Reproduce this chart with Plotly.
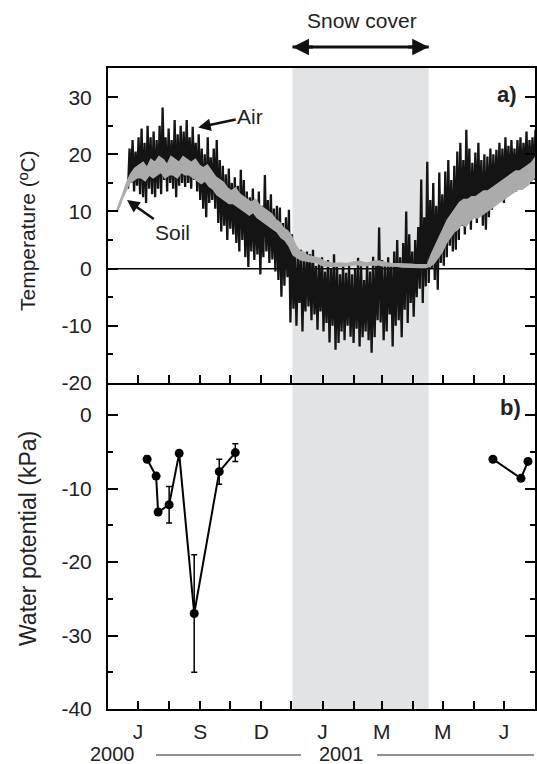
import pandas as pd
import plotly.graph_objects as go

# ---------------- data ----------------
# Air temperature: highs and lows sampled every 3 days from 21 Jun 2000
AIR_START = "2000-06-21"
AIR_STEP_DAYS = 3
AIR_HI = [21, 22.5, 20.5, 23, 24.5, 22, 25, 23, 24, 22.5,
          25, 28.2, 23, 24.5, 22.5, 26, 23.5, 25, 24, 26,
          23, 24.8, 22, 23.5, 21, 20, 23, 19.5, 21, 22.5,
          19, 18, 16.5, 17.5, 15, 16, 14.5, 17.3, 15.5, 13.5,
          12.5, 14, 12, 13.5, 11, 16.4, 12, 13, 10.5, 11,
          10.7, 8, 9, 10.3, 6, 3.3, 2, 3.3, 1.5, 3,
          2.5, 3.3, 0.5, 1, 2, -0.5, 1.5, 0, 2.5, 0.5,
          -1, 1, -0.7, 0.5, -1, 0, 1.9, 0.5, -2, 1,
          -0.5, 2.1, 0.5, 7.2, 1.5, 0.5, 2, 1, 3, 5,
          2, 4.5, 10, 6, 3, 5, 7.3, 15.6, 9, 18.7,
          12, 15, 11, 16.8, 13, 17, 19, 15.5, 18, 20.5,
          22, 19, 24.3, 21, 18.5, 20.3, 22, 19, 20, 19.6,
          21, 20, 20.8, 22, 21, 23, 21.5, 22.5, 21, 22.5,
          23, 22, 24, 22.5, 23, 24.3, 23.5]
AIR_LO = [14, 15, 13.5, 14.5, 13, 12.5, 11.5, 14, 13, 12.5,
          14, 13, 15.5, 13.5, 15, 14, 12.5, 14.5, 15, 14.3,
          15, 14, 15.5, 13.5, 12, 10.5, 9, 11.5, 12, 10.5,
          8, 6.5, 7.5, 5, 7, 6, 4.5, 3, 5, 2,
          0.3, 3, 1.5, 2.5, -1, 2, 3, 1, 1.6, -0.5,
          -2, -4.9, -3, -1.5, -9.4, -7, -10, -6, -11, -7.5,
          -6.6, -9, -8, -10.7, -7.5, -11, -9.5, -12.9, -10, -14.2,
          -13, -11, -12.5, -10, -11.9, -13, -10.5, -13.6, -12, -11,
          -12.5, -14.7, -12, -9, -9.4, -12.5, -11, -8, -13.6, -10,
          -9, -12, -7.2, -9.5, -6, -8.4, -5, -3.5, -6, -3.1,
          -2.5, 0, -2, -3.7, 1, 0.5, 2, 4, 3, 3.3,
          5, 7.5, 6, 8.5, 6.8, 9, 8, 10, 7.5, 6.8,
          9, 10.3, 11, 12, 12.5, 11.5, 13.8, 13, 14.5, 13.5,
          15, 14, 15.5, 15, 16, 15.5, 16.5]

# Soil temperature: highs and lows sampled every 4 days from 10 Jun 2000
SOIL_START = "2000-06-10"
SOIL_STEP_DAYS = 4
SOIL_HI = [10.8, 13, 15, 16.5, 17.5, 18, 18.5, 17.5, 19, 18.5,
           19.5, 19, 18, 19.5, 19, 18.5, 19.5, 19, 18.5, 19,
           18, 17.5, 18, 17, 16, 15.5, 15, 14, 13.5, 14,
           13, 12.5, 12, 11.5, 12, 11, 10.5, 10, 9.5, 8.5,
           8, 7, 6.5, 5.5, 4, 3, 2.8, 2.2, 2, 1.9,
           1.7, 1.2, 1.0, 0.9, 0.8, 0.9, 0.8, 0.8, 1.0, 1.1,
           1.2, 1.0, 0.9, 1.1, 1.3, 1.2, 1.0, 0.9, 0.8, 0.8,
           0.8, 0.7, 0.7, 0.7, 0.6, 0.6, 0.6, 0.6, 2.5, 4,
           5.5, 7, 8.5, 9.5, 10.5, 11.5, 12, 12, 12.5, 12.5,
           13, 13.5, 13.5, 14, 14.5, 15, 15.5, 16, 16.5, 17,
           17, 17.5, 18, 18.5, 19.5]
SOIL_LO = [10.0, 12, 13.5, 15, 15.5, 16, 16, 15.5, 16.5, 16,
           16.5, 17, 16, 16.5, 16.5, 16, 17, 16.5, 16.5, 16,
           15.5, 15, 15.5, 14.5, 14, 13, 12.5, 12, 11.5, 11.5,
           11, 10.5, 10, 9.5, 10, 9, 8.5, 8, 7.5, 7,
           6.5, 5.5, 5, 4, 2.5, 2, 1.6, 1.4, 1.3, 1.2,
           1.1, 0.7, 0.5, 0.5, 0.5, 0.5, 0.5, 0.5, 0.6, 0.7,
           0.8, 0.6, 0.6, 0.7, 0.8, 0.8, 0.6, 0.6, 0.5, 0.5,
           0.5, 0.4, 0.4, 0.4, 0.4, 0.3, 0.3, 0.3, 0.5, 1,
           2, 3, 4.5, 5.5, 6.5, 7, 8, 7.5, 8.5, 9,
           9, 9.5, 10, 10.5, 11, 11.5, 12, 12.5, 13, 13.5,
           14, 14, 14.5, 15, 16]

# Soil water potential (kPa), mean and error
WP_2000_DATES = ["2000-07-10", "2000-07-19", "2000-07-21", "2000-08-01", "2000-08-11",
                 "2000-08-26", "2000-09-20", "2000-10-06"]
WP_2000_VALUES = [-6.0, -8.3, -13.2, -12.2, -5.2, -27.0, -7.7, -5.1]
WP_2000_ERR = [0.4, 0.4, 0.4, 2.5, 0.4, 8.0, 1.7, 1.2]
WP_2001_DATES = ["2001-06-20", "2001-07-18", "2001-07-25"]
WP_2001_VALUES = [-6.0, -8.6, -6.3]

SNOW_START, SNOW_END = "2000-12-02", "2001-04-17"

MONTH_TICKS = ["2000-07-01", "2000-08-01", "2000-09-01", "2000-10-01", "2000-11-01",
               "2000-12-01", "2001-01-01", "2001-02-01", "2001-03-01", "2001-04-01",
               "2001-05-01", "2001-06-01", "2001-07-01"]
MONTH_LABELS = ["J", "", "S", "", "D", "", "J", "", "M", "", "M", "", "J"]
TEMP_TICKS = [-20, -10, 0, 10, 20, 30]
TEMP_LABELS = ["-20", "-10", "0", "10", "20", "30"]
WP_TICKS = [-40, -30, -20, -10, 0]
WP_LABELS = ["-40", "-30", "-20", "-10", "0"]


def zigzag(start, step, lo, hi):
    """Alternate each low with the following high (half a step later)."""
    t0 = pd.Timestamp(start)
    xs, ys = [], []
    for i, (a, b) in enumerate(zip(lo, hi)):
        t = t0 + pd.Timedelta(days=step * i)
        xs += [t, t + pd.Timedelta(hours=12 * step)]
        ys += [a, b]
    return xs, ys


def band(start, step, lo, hi):
    """Closed outline: highs forward (mid-step), lows backward."""
    t0 = pd.Timestamp(start)
    t_lo = [t0 + pd.Timedelta(days=step * i) for i in range(len(lo))]
    t_hi = [t + pd.Timedelta(hours=12 * step) for t in t_lo]
    return t_hi + t_lo[::-1], list(hi) + list(lo)[::-1]


# ---------------- layout geometry (page pixel coords) ----------------
W, H = 537, 764
X0, X1, Y0, Y1 = 108, 535, 68, 709   # plot area
ML, MR, MT, MB = X0, W - X1, Y0, H - Y1


def px(x):
    return (x - X0) / (X1 - X0)


def py(y):
    return (Y1 - y) / (Y1 - Y0)


FONT = "Liberation Sans, Arial, Helvetica, sans-serif"
TXT = "#222222"

fig = go.Figure()

ax, ay = zigzag(AIR_START, AIR_STEP_DAYS, AIR_LO, AIR_HI)
fig.add_trace(go.Scatter(x=ax, y=ay, mode="lines",
                         line=dict(color="#141414", width=2.3),
                         xaxis="x2", yaxis="y2", showlegend=False, hoverinfo="skip"))
sx, sy = band(SOIL_START, SOIL_STEP_DAYS, SOIL_LO, SOIL_HI)
fig.add_trace(go.Scatter(x=sx, y=sy, mode="lines", fill="toself", fillcolor="#ababab",
                         line=dict(color="#ababab", width=2.5),
                         xaxis="x2", yaxis="y2", showlegend=False, hoverinfo="skip"))

fig.add_trace(go.Scatter(x=WP_2000_DATES, y=WP_2000_VALUES, mode="lines+markers",
                         line=dict(color="black", width=2),
                         marker=dict(color="black", size=9),
                         error_y=dict(type="data", array=WP_2000_ERR, color="black",
                                      thickness=1.5, width=3),
                         xaxis="x", yaxis="y", showlegend=False, cliponaxis=False))
fig.add_trace(go.Scatter(x=WP_2001_DATES, y=WP_2001_VALUES, mode="lines+markers",
                         line=dict(color="black", width=2),
                         marker=dict(color="black", size=9),
                         xaxis="x", yaxis="y", showlegend=False, cliponaxis=False))

xcommon = dict(type="date", range=["2000-06-01", "2001-08-01"], tickvals=MONTH_TICKS,
               ticks="inside", ticklen=8, tickwidth=2, tickcolor="black",
               showline=True, linewidth=2, linecolor="black", mirror=True,
               showgrid=False, zeroline=False)
ycommon = dict(ticks="inside", ticklen=10, tickwidth=2, tickcolor="black",
               showline=True, linewidth=2, linecolor="black", mirror="allticks",
               showgrid=False, zeroline=False,
               minor=dict(dtick=5, tick0=0, ticks="inside", ticklen=5, tickwidth=2,
                          tickcolor="black", showgrid=False),
               tickfont=dict(family=FONT, size=21, color=TXT),
               ticklabelstandoff=10)

fig.update_layout(
    width=W, height=H,
    margin=dict(l=ML, r=MR, t=MT, b=MB, autoexpand=False),
    paper_bgcolor="white", plot_bgcolor="rgba(0,0,0,0)",
    font=dict(family=FONT, color=TXT),
    xaxis=dict(**xcommon, anchor="y", ticktext=MONTH_LABELS,
               tickfont=dict(family=FONT, size=21, color=TXT), ticklabelstandoff=3),
    xaxis2=dict(**xcommon, anchor="y2", matches="x", showticklabels=False),
    yaxis=dict(**ycommon, domain=[0, py(385)], range=[-40, 4.1],
               tickvals=WP_TICKS, ticktext=WP_LABELS),
    yaxis2=dict(**ycommon, domain=[py(383), 1], range=[-20, 35.1],
                tickvals=TEMP_TICKS, ticktext=TEMP_LABELS),
)

shapes = [
    dict(type="rect", xref="x", yref="paper", x0=SNOW_START, x1=SNOW_END, y0=0, y1=1,
         fillcolor="#e2e3e5", line=dict(width=0), layer="below"),
    dict(type="line", xref="paper", yref="y2", x0=0, x1=1, y0=0, y1=0,
         line=dict(color="black", width=1.5), layer="below"),
    dict(type="line", xref="x", yref="paper", x0=SNOW_START, x1=SNOW_END,
         y0=py(47), y1=py(47), line=dict(color="#111", width=3)),
    dict(type="line", xref="paper", yref="paper", x0=px(156), x1=px(301), y0=py(755), y1=py(755),
         line=dict(color=TXT, width=1)),
    dict(type="line", xref="paper", yref="paper", x0=px(377), x1=px(534), y0=py(755), y1=py(755),
         line=dict(color=TXT, width=1)),
]
fig.update_layout(shapes=shapes)

C = dict(xanchor="center", yanchor="middle", showarrow=False)
ann = [
    dict(text="Snow cover", xref="paper", yref="paper", x=px(362), y=py(20),
         font=dict(size=21), **C),
    dict(text="", xref="x2", yref="paper", x=SNOW_START, y=py(47), ax=22, ay=0,
         showarrow=True, arrowhead=2, arrowsize=1.1, arrowwidth=3, arrowcolor="#111"),
    dict(text="", xref="x2", yref="paper", x=SNOW_END, y=py(47), ax=-22, ay=0,
         showarrow=True, arrowhead=2, arrowsize=1.1, arrowwidth=3, arrowcolor="#111"),
    dict(text="Air", xref="x2", yref="y2", x="2000-08-30", y=24.7, ax=52, ay=-11,
         showarrow=True, arrowhead=2, arrowsize=1, arrowwidth=2.5, arrowcolor="#111",
         font=dict(size=21)),
    dict(text="Soil", xref="x2", yref="y2", x="2000-06-20", y=12.0, ax=45, ay=32,
         showarrow=True, arrowhead=2, arrowsize=1, arrowwidth=2.5, arrowcolor="#111",
         font=dict(size=21)),
    dict(text="<b>a)</b>", xref="paper", yref="paper", x=px(507), y=py(95),
         font=dict(size=22, color=TXT), **C),
    dict(text="<b>b)</b>", xref="paper", yref="paper", x=px(510), y=py(407),
         font=dict(size=22, color=TXT), **C),
    dict(text="Temperature (ºC)", xref="paper", yref="paper", x=px(27), y=py(231),
         textangle=-90, font=dict(size=21), **C),
    dict(text="Water potential (kPa)", xref="paper", yref="paper", x=px(28), y=py(539),
         textangle=-90, font=dict(size=23), **C),
    dict(text="2000", xref="paper", yref="paper", x=px(112), y=py(754),
         font=dict(size=20), **C),
    dict(text="2001", xref="paper", yref="paper", x=px(341), y=py(754),
         font=dict(size=20), **C),
]
fig.update_layout(annotations=ann)

fig.write_html(
    "out.html",
    config={"displayModeBar": False},
    post_script="document.body.style.margin='0';document.body.style.overflow='hidden';",
)
